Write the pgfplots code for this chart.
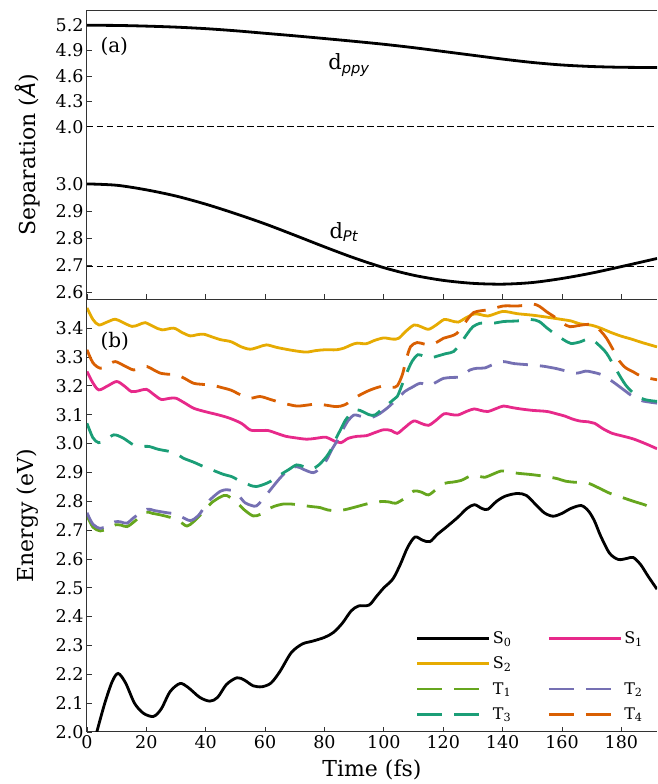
\documentclass[border=0pt]{standalone}
\usepackage{fontspec}
\setmainfont{DejaVu Serif}
\newfontfamily\dvsans{DejaVu Sans}
\usepackage{pgfplots}
\pgfplotsset{compat=1.18}
\definecolor{cS1}{HTML}{E7298A}
\definecolor{cS2}{HTML}{E6AB02}
\definecolor{cT1}{HTML}{66A61E}
\definecolor{cT2}{HTML}{7570B3}
\definecolor{cT3}{HTML}{1B9E77}
\definecolor{cT4}{HTML}{D95F02}
\tikzset{
  spine/.style={black!80, line width=1pt},
  sline/.style={line width=2.8pt, smooth},
  tline/.style={line width=2.8pt, smooth, dash pattern=on 25pt off 12pt},
}
\pgfplotsset{
  myaxis/.style={
    scale only axis, width=570pt, xmin=0, xmax=192,
    axis line style={draw=none},
    clip mode=individual,
    tick align=inside, major tick length=5pt,
    tick style={black!80, line width=0.8pt},
    xtick pos=left, ytick pos=left,
    tick label style={font=\fontsize{17.5}{21}\selectfont},
    /pgf/number format/assume math mode=true,
    yticklabel style={/pgf/number format/.cd, fixed, fixed zerofill, precision=1},
    label style={font=\fontsize{22}{26}\selectfont},
  },
}
\begin{document}
\begin{tikzpicture}
\path[use as bounding box] (-87pt,-52pt) rectangle (570pt,732pt);

% ---------------- panel (b) ----------------
\begin{axis}[myaxis, at={(0pt,0pt)}, anchor=south west, height=432.7pt,
  ymin=2.0, ymax=3.5,
  ytick={2.0,2.1,2.2,2.3,2.4,2.5,2.6,2.7,2.8,2.9,3.0,3.1,3.2,3.3,3.4},
  xtick={0,20,40,60,80,100,120,140,160,180},
  xlabel={Time (fs)}, ylabel={Energy (eV)},
  xlabel style={at={(axis description cs:0.5,-0.088)}, anchor=center},
  ylabel style={at={(axis description cs:-0.105,0.5)}, anchor=center},
  legend columns=2, legend cell align=left,
  legend image code/.code={\draw[#1] (0pt,0pt) -- (72pt,0pt);},
  legend style={font=\fontsize{16}{19}\selectfont, draw=none, fill=none,
    at={(axis description cs:0.577,0.237)}, anchor=north west,
    inner sep=0pt, row sep=8pt, nodes={xshift=8pt},
    /tikz/every even column/.append style={column sep=34pt}},
]
\draw[spine] (rel axis cs:0,1) -- (rel axis cs:0,0) -- (rel axis cs:1,0);
\draw[spine] (rel axis cs:0,1) -- (rel axis cs:1,1);

% S0
\addplot[sline, black] coordinates {
(0,1.87) (3.3,2.0) (6,2.1) (8.5,2.175) (10.5,2.203) (13,2.17) (16,2.10) (19,2.065)
(22.4,2.054) (25,2.08) (28,2.14) (31.3,2.168) (34,2.155) (38,2.12) (41.4,2.107)
(44,2.12) (47,2.165) (50.5,2.188) (53,2.18) (56,2.16) (59,2.157) (62,2.17)
(65,2.21) (68.8,2.275) (72.5,2.305) (76,2.315) (80,2.328) (83,2.345) (86,2.377)
(89,2.42) (91.5,2.437) (95,2.44) (97.5,2.47) (100,2.50) (103,2.53) (105.5,2.58)
(108,2.64) (110.5,2.676) (113,2.665) (115.5,2.66) (118,2.685) (121,2.71)
(125,2.745) (128,2.775) (130.5,2.788) (133,2.775) (135,2.772) (138,2.80)
(141,2.818) (145,2.827) (148,2.82) (151,2.79) (154,2.76) (157,2.748) (160,2.758)
(163,2.775) (166.5,2.785) (169,2.765) (171,2.73) (173,2.68) (176,2.62)
(179,2.598) (182,2.602) (184,2.605) (186.5,2.58) (189,2.54) (192,2.495)
};
\addlegendentry{S\textsubscript{0}}

% S1
\addplot[sline, cS1] coordinates {
(0,3.25) (2,3.21) (4,3.186) (7,3.20) (10,3.215) (12.5,3.20) (15,3.18) (17.5,3.183)
(20,3.188) (22.5,3.17) (25,3.153) (28,3.157) (30,3.157) (33,3.14) (36,3.122)
(40,3.11) (44,3.10) (48,3.088) (52,3.07) (55,3.047) (58,3.045) (61,3.045)
(64,3.035) (67,3.025) (70,3.02) (74,3.015) (77,3.018) (80.5,3.022) (83,3.01)
(85.5,3.003) (88,3.018) (91,3.025) (94,3.027) (97,3.038) (100,3.048) (102.5,3.045)
(104.5,3.035) (107,3.055) (110,3.078) (112.5,3.07) (115,3.063) (117.5,3.08)
(120.3,3.103) (123,3.10) (125,3.099) (128,3.112) (130.4,3.12) (132.5,3.115)
(135,3.111) (138,3.122) (140.3,3.13) (143,3.125) (146,3.12) (150,3.115)
(155,3.111) (158.5,3.102) (161,3.095) (163.5,3.085) (166,3.078) (169,3.075)
(171,3.07) (174,3.05) (177,3.035) (180,3.027) (184,3.016) (188,3.0) (192,2.982)
};
\addlegendentry{S\textsubscript{1}}

% S2
\addplot[sline, cS2] coordinates {
(0,3.47) (2,3.43) (4,3.411) (6.5,3.42) (9.5,3.431) (12,3.42) (15.2,3.406)
(17.5,3.412) (19.6,3.419) (22.5,3.405) (25.3,3.394) (29.2,3.40) (32,3.385)
(34.8,3.373) (37,3.377) (39.3,3.379) (42,3.37) (45,3.36) (48.5,3.353) (52,3.335)
(55,3.327) (58,3.335) (60.5,3.342) (64,3.333) (68,3.325) (71,3.32) (74,3.317)
(77,3.322) (80,3.325) (84,3.325) (86.6,3.331) (89,3.342) (91,3.348) (94,3.346)
(97,3.358) (100,3.366) (103,3.362) (105,3.365) (107.5,3.39) (110.2,3.411)
(112.5,3.405) (115,3.396) (117.5,3.41) (120.3,3.43) (122.5,3.426) (125,3.421)
(127.5,3.435) (130.4,3.449) (132.5,3.447) (135,3.442) (137.5,3.45) (140,3.458)
(142.5,3.455) (145,3.45) (150,3.445) (155,3.438) (160,3.43) (163,3.425)
(166,3.415) (170,3.41) (173,3.40) (176.5,3.385) (180,3.372) (183.4,3.362)
(187,3.35) (192,3.335)
};
\addlegendentry{S\textsubscript{2}}
\addlegendimage{empty legend}
\addlegendentry{}

% T1
\addplot[tline, cT1] coordinates {
(0,2.75) (2,2.71) (4.5,2.697) (7,2.705) (9.5,2.718) (11.5,2.717) (13.5,2.712)
(16,2.73) (19.6,2.762) (22,2.758) (25,2.752) (29,2.741) (31.5,2.728) (33.7,2.714)
(36,2.73) (39.8,2.77) (42,2.795) (45,2.815) (47,2.82) (50,2.80) (53,2.77)
(56,2.749) (58.5,2.755) (60.5,2.77) (63,2.782) (66,2.79) (69,2.79) (72.8,2.785)
(76,2.781) (78.5,2.778) (81,2.77) (84,2.767) (87,2.771) (90.8,2.781) (94,2.79)
(97,2.797) (100,2.799) (102,2.797) (104,2.793) (107,2.81) (110,2.835)
(112.5,2.832) (115,2.822) (117.5,2.84) (120.5,2.862) (123,2.866) (126,2.872)
(129.5,2.889) (132,2.887) (134,2.883) (137,2.895) (139.5,2.905) (142,2.902)
(145,2.897) (150,2.892) (155,2.885) (158.5,2.878) (161,2.87) (164,2.866)
(167,2.866) (169.5,2.86) (172,2.848) (176,2.828) (180,2.814) (184,2.8)
(188,2.787) (192,2.77)
};
\addlegendentry{T\textsubscript{1}}

% T2
\addplot[tline, cT2] coordinates {
(0,2.76) (2,2.72) (4.5,2.706) (7,2.715) (9.5,2.729) (11.5,2.728) (13.5,2.724)
(16,2.745) (20.2,2.772) (22.5,2.768) (24.7,2.764) (27,2.76) (29.7,2.756)
(32,2.745) (34.8,2.733) (37.5,2.75) (40.4,2.793) (42.5,2.815) (45,2.835) (47,2.84)
(48.5,2.838) (51,2.82) (53.2,2.795) (55.5,2.785) (57.1,2.784) (59.5,2.81)
(62.2,2.845) (65,2.88) (67.8,2.908) (70.6,2.92) (73,2.91) (76.2,2.899)
(78.5,2.915) (80.7,2.943) (82.5,2.98) (84,3.005) (86,3.045) (88,3.08) (90,3.099)
(92,3.095) (95,3.088) (98,3.10) (101,3.122) (104,3.15) (107,3.18) (109.5,3.195)
(112.3,3.209) (115,3.2) (117.5,3.212) (120.1,3.226) (123,3.229) (126,3.232)
(129,3.255) (131.5,3.261) (134,3.262) (137,3.275) (140.2,3.284) (144,3.277)
(150,3.272) (153.7,3.268) (158,3.26) (162,3.25) (165,3.244) (168,3.251)
(170,3.248) (173.5,3.238) (177,3.215) (180.3,3.19) (184,3.162) (187,3.148)
(192,3.14)
};
\addlegendentry{T\textsubscript{2}}

% T3
\addplot[tline, cT3] coordinates {
(0,3.07) (2,3.02) (3.9,3.003) (6,3.01) (9,3.03) (12,3.02) (15.7,2.995) (18,2.99)
(20.8,2.99) (24,2.98) (28,2.972) (30.5,2.962) (32.5,2.949) (36,2.935) (39.3,2.92)
(43,2.905) (46,2.893) (48.8,2.885) (51,2.873) (53,2.865) (55,2.855) (57.1,2.851)
(60,2.86) (62,2.87) (65,2.891) (68,2.91) (70.6,2.926) (73,2.92) (75.6,2.911)
(78,2.925) (80.7,2.955) (82.5,2.985) (84,3.02) (85.5,3.05) (87,3.08) (89,3.105)
(91,3.117) (93,3.11) (95,3.10) (97,3.099) (100,3.125) (103,3.15) (104.5,3.163)
(106,3.2) (107.5,3.24) (109.5,3.285) (111.5,3.308) (113.5,3.302) (115.7,3.297)
(118.3,3.304) (121,3.312) (123.5,3.319) (126,3.35) (128.2,3.382) (130,3.405)
(132.4,3.417) (135,3.418) (137.5,3.418) (140.3,3.423) (145,3.425) (149.5,3.43)
(152.3,3.423) (155,3.40) (158,3.377) (160.5,3.36) (163,3.347) (166,3.352)
(169.4,3.364) (172,3.345) (175,3.313) (178.3,3.255) (181.5,3.202) (185,3.166)
(188,3.152) (192,3.146)
};
\addlegendentry{T\textsubscript{3}}

% T4
\addplot[tline, cT4] coordinates {
(0,3.325) (2,3.28) (4.5,3.261) (7,3.272) (9.5,3.284) (12.5,3.27) (15.7,3.255)
(18,3.262) (20.2,3.267) (22.5,3.255) (24.7,3.244) (27.5,3.24) (30.3,3.238)
(33,3.225) (35.9,3.209) (39,3.205) (42,3.203) (45,3.195) (48.5,3.185)
(51.5,3.17) (54.9,3.157) (58.3,3.163) (62,3.152) (66.1,3.14) (70.6,3.13)
(74,3.133) (77.3,3.137) (80.5,3.133) (84.1,3.128) (87,3.135) (91,3.163)
(95.5,3.186) (100,3.2) (102.8,3.195) (104.5,3.2) (106.2,3.238) (107.5,3.29)
(109,3.336) (111.2,3.35) (113.5,3.345) (115.7,3.342) (118,3.352) (120.1,3.365)
(122.5,3.372) (124.6,3.382) (126.8,3.411) (128.5,3.435) (130.2,3.454)
(132.5,3.46) (134.7,3.463) (137.5,3.47) (140.3,3.477) (143,3.477) (145.3,3.477)
(148,3.48) (150.3,3.484) (152.5,3.475) (154.8,3.457) (158.2,3.434) (160.5,3.415)
(162.7,3.405) (165,3.408) (167.5,3.412) (170.5,3.412) (173,3.39) (175,3.365)
(177.5,3.32) (179.4,3.285) (181.5,3.262) (183.9,3.249) (187,3.232) (192,3.221)
};
\addlegendentry{T\textsubscript{4}}

\node[anchor=west, font=\fontsize{20}{24}\selectfont] at (rel axis cs:0.0175,0.902) {(b)};
\end{axis}

% ---------------- panel (a), lower part ----------------
\begin{axis}[myaxis, at={(0pt,432.7pt)}, anchor=south west, height=144.3pt,
  ymin=2.573, ymax=3.107,
  ytick={2.6,2.7,2.8,2.9,3.0},
  xtick={0,20,40,60,80,100,120,140,160,180}, xticklabels={},
]
\draw[spine] (rel axis cs:0,1) -- (rel axis cs:0,0) -- (rel axis cs:1,0);
\addplot[line width=1.5pt, black, dash pattern=on 6.5pt off 3.5pt] coordinates {(0,2.695) (192,2.695)};
\addplot[line width=2.8pt, black, smooth] coordinates {
(0,3.0) (10,2.995) (20,2.978) (30,2.955) (40,2.925) (50,2.89) (60,2.852)
(70,2.81) (80,2.767) (90,2.726) (100,2.69) (110,2.662) (120,2.643)
(130,2.632) (140,2.629) (150,2.635) (160,2.65) (170,2.67) (180,2.694) (192,2.724)
};
\node[anchor=base west, font=\fontsize{21}{25}\selectfont] at (axis cs:80.5,2.799) {d\textsubscript{\dvsans\itshape Pt}};
\end{axis}

% ---------------- panel (a), upper part ----------------
\begin{axis}[myaxis, at={(0pt,577pt)}, anchor=south west, height=144pt,
  ymin=3.665, ymax=5.369,
  ytick={4.0,4.3,4.6,4.9,5.2},
  xtick=\empty,
]
\draw[spine] (rel axis cs:0,0) -- (rel axis cs:0,1) -- (rel axis cs:1,1);
\addplot[line width=1.5pt, black, dash pattern=on 6.5pt off 3.5pt] coordinates {(0,4.0) (192,4.0)};
\addplot[line width=2.8pt, black, smooth] coordinates {
(0,5.20) (10,5.198) (20,5.19) (30,5.178) (40,5.16) (50,5.135) (60,5.105)
(70,5.075) (80,5.043) (90,5.01) (100,4.975) (110,4.935) (120,4.89) (130,4.845)
(140,4.80) (150,4.76) (160,4.73) (170,4.712) (180,4.703) (192,4.70)
};
\node[anchor=base west, font=\fontsize{21}{25}\selectfont] at (axis cs:80.1,4.671) {d\textsubscript{\dvsans\itshape ppy}};
\node[anchor=west, font=\fontsize{20}{24}\selectfont] at (rel axis cs:0.0175,0.757) {(a)};
\node[rotate=90, anchor=center, font=\fontsize{22}{26}\selectfont] at (axis description cs:-0.105,0) {Separation ({\dvsans\itshape Å})};
\end{axis}
\end{tikzpicture}
\end{document}
